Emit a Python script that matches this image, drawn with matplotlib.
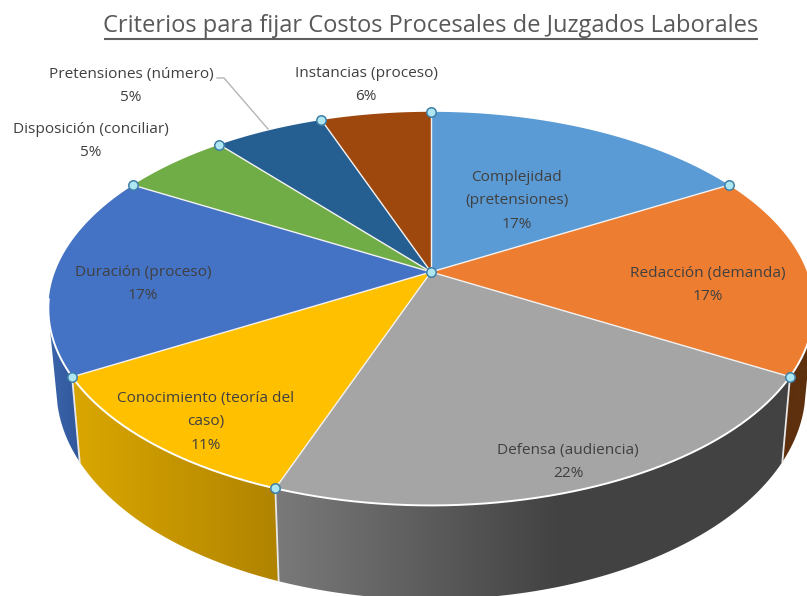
import numpy as np
import matplotlib
matplotlib.use("Agg")
import matplotlib.pyplot as plt
from matplotlib.colors import to_rgb
from matplotlib.patches import Polygon

title = "Criterios para fijar Costos Procesales de Juzgados Laborales"
names = ["Complejidad\n(pretensiones)", "Redacción (demanda)", "Defensa (audiencia)",
         "Conocimiento (teoría del\ncaso)", "Duración (proceso)", "Disposición (conciliar)",
         "Pretensiones (número)", "Instancias (proceso)"]
pct_labels = ["17%", "17%", "22%", "11%", "17%", "5%", "5%", "6%"]
values = [16.67, 16.67, 22.22, 11.11, 16.67, 5.56, 5.56, 5.56]

top_colors = ["#5B9BD5", "#ED7D31", "#A5A5A5", "#FFC000", "#4472C4", "#70AD47", "#255E91", "#9E480E"]
# wall gradients from left to right: slice index, x from, x to, colour from, colour to
wall_shades = [(1, 770, 810, "#5E300E", "#5E300E"),
               (2, 275, 560, "#7A7A7A", "#424242"),
               (3, 78, 280, "#D9A600", "#B08300"),
               (4, 45, 85, "#3C66AE", "#2F5597")]
label_xy = [(517, 201), (708, 285), (568, 462), (206, 422), (143, 284), (91, 141), (131, 86), (366, 85)]

cx, cy, rx, ry, persp = 431, 272, 376, 190, 0.186
cx2, cy2, rx2, ry2 = 431, 350, 368, 203


def project(theta, x0, y0, a, b):
    # theta in degrees, clockwise from the top of the disc
    t = np.radians(theta)
    w = 1 + persp * np.cos(t)
    return x0 + a * np.sin(t) / w, y0 - b * np.cos(t) / w


def top_edge(theta):
    return project(theta, cx, cy, rx, ry)


def low_edge(theta):
    return project(theta, cx2, cy2, rx2, ry2)


fig = plt.figure(figsize=(8.07, 5.96), dpi=100)
ax = fig.add_axes([0, 0, 1, 1])

bounds = np.concatenate([[0], np.cumsum(values)]) / np.sum(values) * 360

# side walls: a horizontal gradient clipped to the wall outline
xgrid = np.arange(0, 808)
for i, x0, x1, c0, c1 in wall_shades:
    th = np.linspace(max(bounds[i], 105), min(bounds[i + 1], 255), 80)
    xa, ya = top_edge(th)
    xb, yb = low_edge(th[::-1])
    outline = np.column_stack([np.r_[xa, xb], np.r_[ya, yb]])
    rgb0, rgb1 = to_rgb(c0), to_rgb(c1)
    grad = np.stack([np.interp(xgrid, [x0, x1], [rgb0[k], rgb1[k]]) for k in range(3)], axis=1)
    im = ax.imshow(grad[np.newaxis, :, :], extent=(0, 807, 596, 0), aspect="auto", zorder=1)
    im.set_clip_path(Polygon(outline, closed=True, transform=ax.transData))

ax.set_xlim(0, 807)
ax.set_ylim(596, 0)
ax.axis("off")

# white seams on the wall
for b in bounds[[2, 3, 4]]:
    xa, ya = top_edge(b)
    xb, yb = low_edge(b)
    ax.plot([xa, xb], [ya, yb], color="#E8E8E8", lw=1.3, zorder=2)

# top face
for i in range(len(values)):
    th = np.linspace(bounds[i], bounds[i + 1], 80)
    xs, ys = top_edge(th)
    pts = np.column_stack([np.r_[cx, xs], np.r_[cy, ys]])
    ax.add_patch(Polygon(pts, closed=True, facecolor=top_colors[i], edgecolor="none", zorder=3))

th = np.linspace(100, 262, 200)
xs, ys = top_edge(th)
ax.plot(xs, ys, color="white", lw=1.4, zorder=4)
for b in bounds[:-1]:
    xa, ya = top_edge(b)
    ax.plot([cx, xa], [cy, ya], color="#F2F2F2", lw=1.0, zorder=4)

# selection handles
hx, hy = top_edge(bounds[:-1])
ax.plot(np.r_[hx, cx], np.r_[hy, cy], ls="none", marker="o", ms=6.8, mfc="#AEE6F2",
        mec="#3F7FA6", mew=1.1, zorder=6)

# leader line
ax.plot([217, 224, 268], [78, 78, 129], color="#B5B5B5", lw=1, zorder=2)

ax.text(431, 26, title, ha="center", va="center", fontsize=17.0, color="#595959", family="Open Sans")
ax.plot([104, 758], [38.5, 38.5], color="#5F5F5F", lw=1.5, solid_capstyle="butt")

for name, pct, (x, y) in zip(names, pct_labels, label_xy):
    ax.text(x, y, name + "\n" + pct, ha="center", va="center", multialignment="center",
            fontsize=11.05, color="#404040", family="Open Sans", linespacing=1.74, zorder=7)

fig.savefig("out.png", dpi=100, facecolor="white")
